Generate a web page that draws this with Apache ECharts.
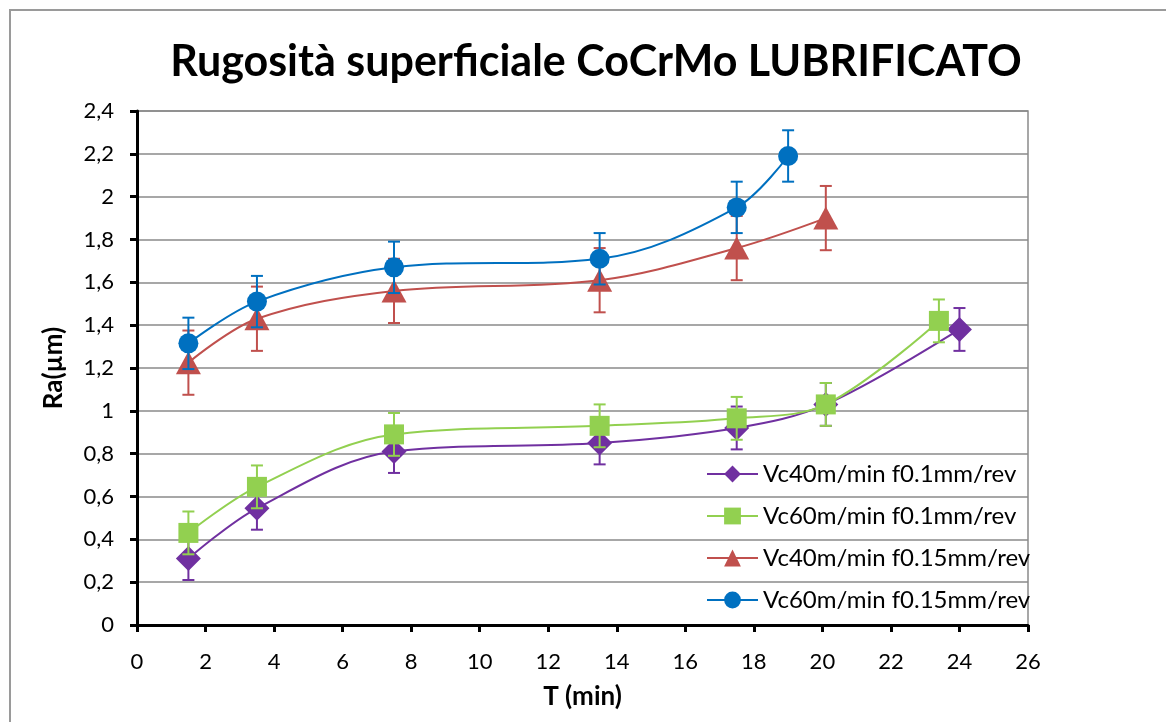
<!DOCTYPE html>
<html>
<head>
<meta charset="utf-8">
<script src="https://cdn.jsdelivr.net/npm/echarts@6/dist/echarts.min.js"></script>
<style>
  html, body { margin: 0; padding: 0; background: #fff; }
  #chart { width: 1166px; height: 722px; }
</style>
</head>
<body>
<div id="chart"></div>
<script>
// Surface roughness of lubricated CoCrMo vs machining time
const chartTitle = 'Rugosità superficiale CoCrMo LUBRIFICATO';
const xAxisName = 'T (min)';
const yAxisName = 'Ra(µm)';

const seriesNames = [
  'Vc40m/min f0.1mm/rev',
  'Vc60m/min f0.1mm/rev',
  'Vc40m/min f0.15mm/rev',
  'Vc60m/min f0.15mm/rev'
];

// Vc 40 m/min, f 0.1 mm/rev
const timeA = [1.5, 3.5, 7.5, 13.5, 17.5, 20.1, 24];
const raA   = [0.31, 0.545, 0.81, 0.85, 0.92, 1.03, 1.38];
const errA  = [0.1, 0.1, 0.1, 0.1, 0.1, 0.1, 0.1];

// Vc 60 m/min, f 0.1 mm/rev
const timeB = [1.5, 3.5, 7.5, 13.5, 17.5, 20.1, 23.4];
const raB   = [0.43, 0.645, 0.89, 0.93, 0.965, 1.03, 1.42];
const errB  = [0.1, 0.1, 0.1, 0.1, 0.1, 0.1, 0.1];

// Vc 40 m/min, f 0.15 mm/rev
const timeC = [1.5, 3.5, 7.5, 13.5, 17.5, 20.1];
const raC   = [1.225, 1.43, 1.56, 1.61, 1.76, 1.9];
const errC  = [0.15, 0.15, 0.15, 0.15, 0.15, 0.15];

// Vc 60 m/min, f 0.15 mm/rev
const timeD = [1.5, 3.5, 7.5, 13.5, 17.5, 19];
const raD   = [1.315, 1.51, 1.67, 1.71, 1.95, 2.19];
const errD  = [0.12, 0.12, 0.12, 0.12, 0.12, 0.12];

const colors = ['#7030A0', '#92D050', '#C0504D', '#0070C0'];
const symbols = ['diamond', 'rect', 'triangle', 'circle'];
const symbolSizes = [[25, 25], [20, 20], [25, 23], [20, 20]];

const FONT = 'Lato, "Open Sans", sans-serif';

function lineSeries(idx, xs, ys, z) {
  return {
    type: 'line',
    name: seriesNames[idx],
    data: xs.map((x, i) => [x, ys[i]]),
    smooth: 0.35,
    symbol: symbols[idx],
    symbolSize: symbolSizes[idx],
    showAllSymbol: true,
    z: z,
    lineStyle: { color: colors[idx], width: 2 },
    itemStyle: { color: colors[idx] },
    emphasis: { disabled: true }
  };
}

function errorSeries(idx, xs, ys, errs, z) {
  const color = colors[idx];
  return {
    type: 'custom',
    name: seriesNames[idx] + ' ±',
    data: xs.map((x, i) => [x, ys[i] - errs[i], ys[i] + errs[i]]),
    encode: { x: 0, y: [1, 2] },
    z: z,
    silent: true,
    renderItem: function (params, api) {
      const x = api.value(0);
      const lo = api.coord([x, api.value(1)]);
      const hi = api.coord([x, api.value(2)]);
      const half = 6;
      const style = { stroke: color, lineWidth: 2, fill: null };
      return {
        type: 'group',
        children: [
          { type: 'line', shape: { x1: lo[0], y1: lo[1], x2: hi[0], y2: hi[1] }, style: style },
          { type: 'line', shape: { x1: lo[0] - half, y1: lo[1], x2: lo[0] + half, y2: lo[1] }, style: style },
          { type: 'line', shape: { x1: hi[0] - half, y1: hi[1], x2: hi[0] + half, y2: hi[1] }, style: style }
        ]
      };
    }
  };
}

const commaFmt = v => String(+v.toFixed(2)).replace('.', ',');

const chart = echarts.init(document.getElementById('chart'), null, { renderer: 'canvas' });
chart.setOption({
  animation: false,
  backgroundColor: '#fff',
  textStyle: { fontFamily: FONT },
  title: {
    text: chartTitle,
    left: 591,
    textAlign: 'center',
    top: 36,
    textStyle: { fontFamily: FONT, fontSize: 43, fontWeight: 'bold', color: '#000' }
  },
  graphic: [{
    type: 'rect',
    shape: { x: 10, y: 10, width: 1180, height: 740 },
    style: { fill: null, stroke: '#9a9a9a', lineWidth: 2 },
    silent: true,
    z: -1
  }],
  grid: {
    left: 137, right: 138, top: 111, bottom: 97,
    show: true, borderColor: '#8a8a8a', borderWidth: 1.5,
    backgroundColor: 'transparent'
  },
  legend: {
    data: seriesNames,
    orient: 'vertical',
    left: 701,
    top: 457,
    itemWidth: 51,
    itemHeight: 21,
    itemGap: 18,
    textStyle: { fontFamily: FONT, fontSize: 24, color: '#000' },
    selectedMode: false
  },
  xAxis: {
    type: 'value',
    min: 0, max: 26, interval: 2,
    name: xAxisName,
    nameLocation: 'middle',
    nameGap: 59,
    nameTextStyle: { fontFamily: FONT, fontSize: 26, fontWeight: 'bold', color: '#000' },
    axisLine: { show: true, onZero: false, lineStyle: { color: '#000', width: 3 } },
    axisTick: { show: true, inside: false, length: 7, lineStyle: { color: '#000', width: 3 } },
    axisLabel: { margin: 26, fontSize: 22, color: '#000', fontFamily: FONT, formatter: commaFmt },
    splitLine: { show: false }
  },
  yAxis: {
    type: 'value',
    min: 0, max: 2.4, interval: 0.2,
    name: yAxisName,
    nameLocation: 'middle',
    nameGap: 70,
    nameTextStyle: { fontFamily: FONT, fontSize: 26, fontWeight: 'bold', color: '#000' },
    axisLine: { show: true, lineStyle: { color: '#000', width: 3 } },
    axisTick: { show: true, inside: false, length: 7, lineStyle: { color: '#000', width: 3 } },
    axisLabel: { margin: 23, fontSize: 22, color: '#000', fontFamily: FONT, formatter: commaFmt },
    splitLine: { show: true, lineStyle: { color: '#8a8a8a', width: 1.5 } }
  },
  series: [
    errorSeries(0, timeA, raA, errA, 2),
    lineSeries(0, timeA, raA, 3),
    errorSeries(1, timeB, raB, errB, 4),
    lineSeries(1, timeB, raB, 5),
    errorSeries(2, timeC, raC, errC, 6),
    lineSeries(2, timeC, raC, 7),
    errorSeries(3, timeD, raD, errD, 8),
    lineSeries(3, timeD, raD, 9)
  ]
});
</script>
</body>
</html>
